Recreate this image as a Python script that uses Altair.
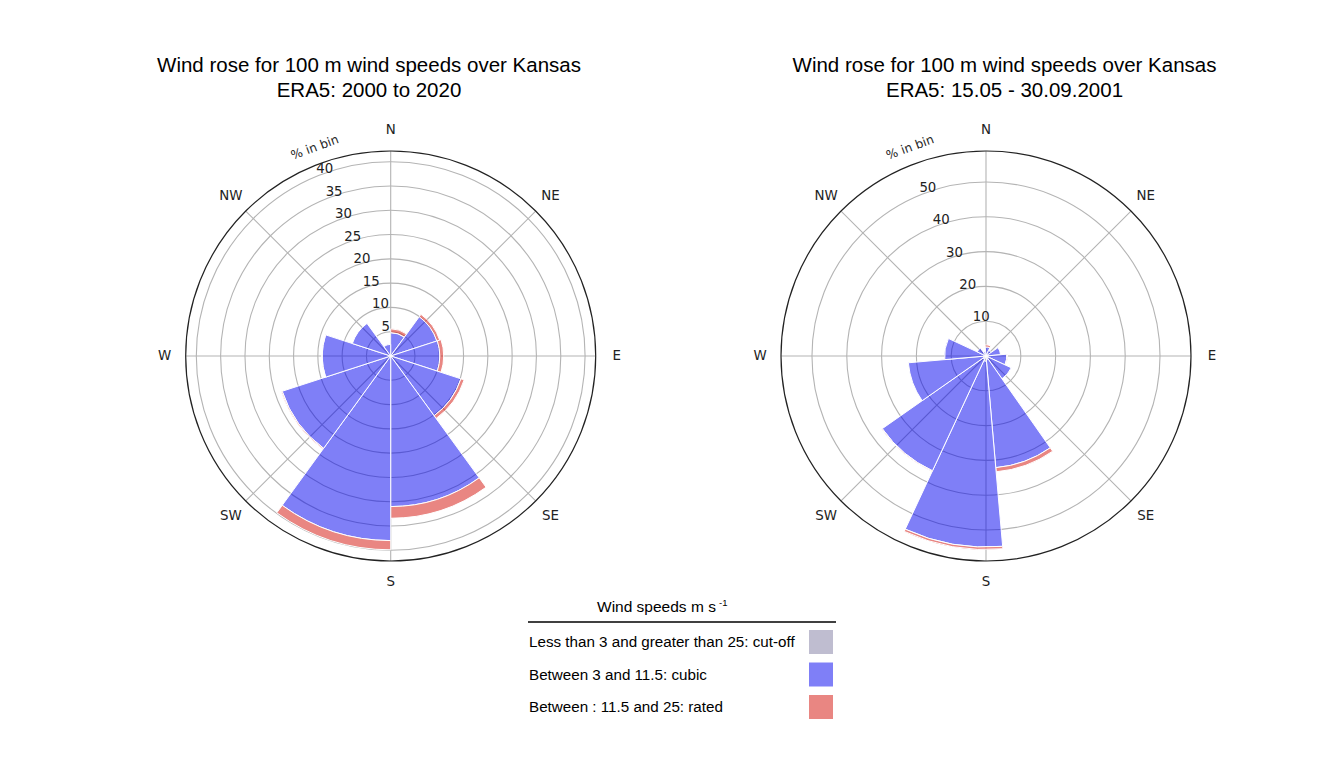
import math
import altair as alt
import pandas as pd

# ---------------- data ----------------
dir_names = ["N", "NE", "E", "SE", "S", "SW", "W", "NW"]
dir_angles = [0, 45, 90, 135, 180, 225, 270, 315]

classes = ["cut-off", "cubic", "rated"]
class_colors = ["#7f7ba1", "#0000ef", "#d30d05"]          # drawn at 50 % opacity
legend_labels = ["Less than 3 and greater than 25: cut-off",
                 "Between 3 and 11.5: cubic",
                 "Between : 11.5 and 25: rated"]
legend_colors = ["#bfbdd0", "#7f7ff7", "#e98682"]

# left rose: ERA5 2000 to 2020 (10 sectors of 36 degrees)
left_start = [0, 36, 72, 108, 144, 180, 216, 252, 288, 324]
left_width = 36
left_cutoff = [0.3, 0.3, 0.3, 0.3, 0.3, 0.3, 0.3, 0.3, 0.3, 0.3]
left_cubic = [4.5, 9.7, 9.8, 14.9, 30.7, 37.7, 23.2, 13.8, 8.0, 2.1]
left_rated = [0.8, 0.6, 0.8, 0.7, 2.4, 1.9, 0.2, 0.05, 0.0, 0.0]
left_rings = [5, 10, 15, 20, 25, 30, 35, 40]
left_rmax = 42.2

# right rose: ERA5 15.05 - 30.09.2001 (12 sectors of 30 degrees)
right_start = [355, 25, 55, 85, 115, 145, 175, 205, 235, 265, 295, 325]
right_width = 30
right_cutoff = [0.5, 0.5, 0.6, 0.6, 0.8, 1.0, 1.5, 1.0, 0.8, 0.6, 0.5, 0.5]
right_cubic = [2.1, 1.3, 3.6, 5.4, 7.2, 31.2, 53.4, 35.4, 21.6, 11.3, 2.3, 0.7]
right_rated = [0.6, 0.0, 0.0, 0.2, 0.0, 1.2, 0.7, 0.2, 0.0, 0.0, 0.0, 0.0]
right_rings = [10, 20, 30, 40, 50]
right_rmax = 58.9

R = 205          # outer radius in px
TWO_PI = 2 * math.pi


def label(text, x, y, **kw):
    return alt.Chart(pd.DataFrame({"t": [text]})).mark_text(**kw).encode(
        text="t:N", x=alt.value(x), y=alt.value(y))


def rose(start, width, cutoff, cubic, rated, rings, rmax, cx, cy, title_x, t1, t2):
    rows = []
    for i, s in enumerate(start):
        base = 0.0
        for cls, v in zip(classes, (cutoff[i], cubic[i], rated[i])):
            if v > 0:
                rows.append(dict(t0=s, t1=s + width, r0=base, r1=base + v, cls=cls))
            base += v
    bars = pd.DataFrame(rows)
    rscale = alt.Scale(type="linear", domain=[0, rmax], range=[0, R], zero=True, nice=False)
    tscale = alt.Scale(type="linear", domain=[0, 360], range=[0, TWO_PI], zero=False, nice=False)
    pos = dict(x=alt.value(cx), y=alt.value(cy))

    ring_df = pd.DataFrame({"r": rings})
    grid = alt.Chart(ring_df).mark_arc(filled=False, stroke="#b4b4b4", strokeWidth=1.1).encode(
        theta=alt.value(0), theta2=alt.value(TWO_PI),
        radius=alt.Radius("r:Q", scale=rscale, stack=None), radius2=alt.value(0), **pos)

    spk_df = pd.DataFrame({"a": dir_angles, "r": [rmax] * len(dir_angles)})
    spokes = alt.Chart(spk_df).mark_arc(filled=False, stroke="#b4b4b4", strokeWidth=1.1).encode(
        theta=alt.Theta("a:Q", scale=tscale, stack=None), theta2="a:Q",
        radius=alt.Radius("r:Q", scale=rscale, stack=None), radius2=alt.value(0), **pos)

    arcs = alt.Chart(bars).mark_arc(stroke="white", strokeWidth=1, fillOpacity=0.5).encode(
        theta=alt.Theta("t0:Q", scale=tscale, stack=None), theta2="t1:Q",
        radius=alt.Radius("r1:Q", scale=rscale, stack=None), radius2="r0:Q",
        fill=alt.Fill("cls:N", scale=alt.Scale(domain=classes, range=class_colors), legend=None),
        **pos)

    outer = alt.Chart(pd.DataFrame({"r": [rmax]})).mark_arc(
        filled=False, stroke="#222222", strokeWidth=1.2).encode(
        theta=alt.value(0), theta2=alt.value(TWO_PI),
        radius=alt.Radius("r:Q", scale=rscale, stack=None), radius2=alt.value(0), **pos)

    ticks = alt.Chart(ring_df).mark_text(
        align="left", baseline="bottom", font="DejaVu Sans", fontSize=13.3, color="#222222").encode(
        text="r:Q", theta=alt.value(TWO_PI - math.pi / 8),
        radius=alt.Radius("r:Q", scale=rscale, stack=None), **pos)

    card_df = pd.DataFrame({"name": dir_names, "a": dir_angles})
    cards = alt.Chart(card_df).mark_text(
        align="center", baseline="middle", font="DejaVu Sans", fontSize=13.4, color="#222222").encode(
        text="name:N", theta=alt.Theta("a:Q", scale=tscale, stack=None),
        radius=alt.value(226), **pos)

    unit = alt.Chart(pd.DataFrame({"t": ["% in bin"]})).mark_text(
        align="center", baseline="middle", font="DejaVu Sans", fontSize=12.3,
        color="#222222", angle=340).encode(
        text="t:N", theta=alt.value(math.radians(340)), radius=alt.value(222), **pos)

    tfont = dict(font="Liberation Sans", fontSize=20.5, color="black",
                 align="center", baseline="middle")
    ttl1 = label(t1, title_x, 58, **tfont)
    ttl2 = label(t2, title_x, 83, **tfont)

    return alt.layer(grid, spokes, arcs, outer, ticks, cards, unit, ttl1, ttl2)


left = rose(left_start, left_width, left_cutoff, left_cubic, left_rated,
            left_rings, left_rmax, 382.7, 348, 361,
            "Wind rose for 100 m wind speeds over Kansas", "ERA5: 2000 to 2020")
right = rose(right_start, right_width, right_cutoff, right_cubic, right_rated,
             right_rings, right_rmax, 978, 348, 996.5,
             "Wind rose for 100 m wind speeds over Kansas", "ERA5: 15.05 - 30.09.2001")

# ---------------- legend ----------------
lfont = dict(font="Liberation Sans", color="black")
leg_title = label("Wind speeds  m s", 589, 599, align="left", baseline="middle", fontSize=15.5, **lfont)
leg_sup = label("-1", 711, 595, align="left", baseline="middle", fontSize=9.5, **lfont)
leg_line = alt.Chart(pd.DataFrame({"a": [0]})).mark_rule(color="black", strokeWidth=1.3).encode(
    x=alt.value(520), x2=alt.value(828), y=alt.value(614))
leg_df = pd.DataFrame({"label": legend_labels})
yscale = alt.Scale(type="point", domain=legend_labels, range=[634, 699], padding=0)
leg_text = alt.Chart(leg_df).mark_text(align="left", baseline="middle", fontSize=15.2, **lfont).encode(
    text="label:N", x=alt.value(521), y=alt.Y("label:N", scale=yscale, axis=None))
leg_sw = alt.Chart(leg_df).mark_square(size=576, opacity=1).encode(
    x=alt.value(813), y=alt.Y("label:N", scale=yscale, axis=None),
    color=alt.Color("label:N", scale=alt.Scale(domain=legend_labels, range=legend_colors), legend=None))
legend = alt.layer(leg_title, leg_sup, leg_line, leg_text, leg_sw)

chart = alt.layer(left, right, legend).resolve_scale(
    radius="independent", theta="independent", fill="independent",
    color="independent", y="independent"
).properties(width=1325, height=747, padding=0, autosize="none").configure_view(strokeWidth=0)

chart.save("out.html", embed_options={"renderer": "svg", "actions": False})
